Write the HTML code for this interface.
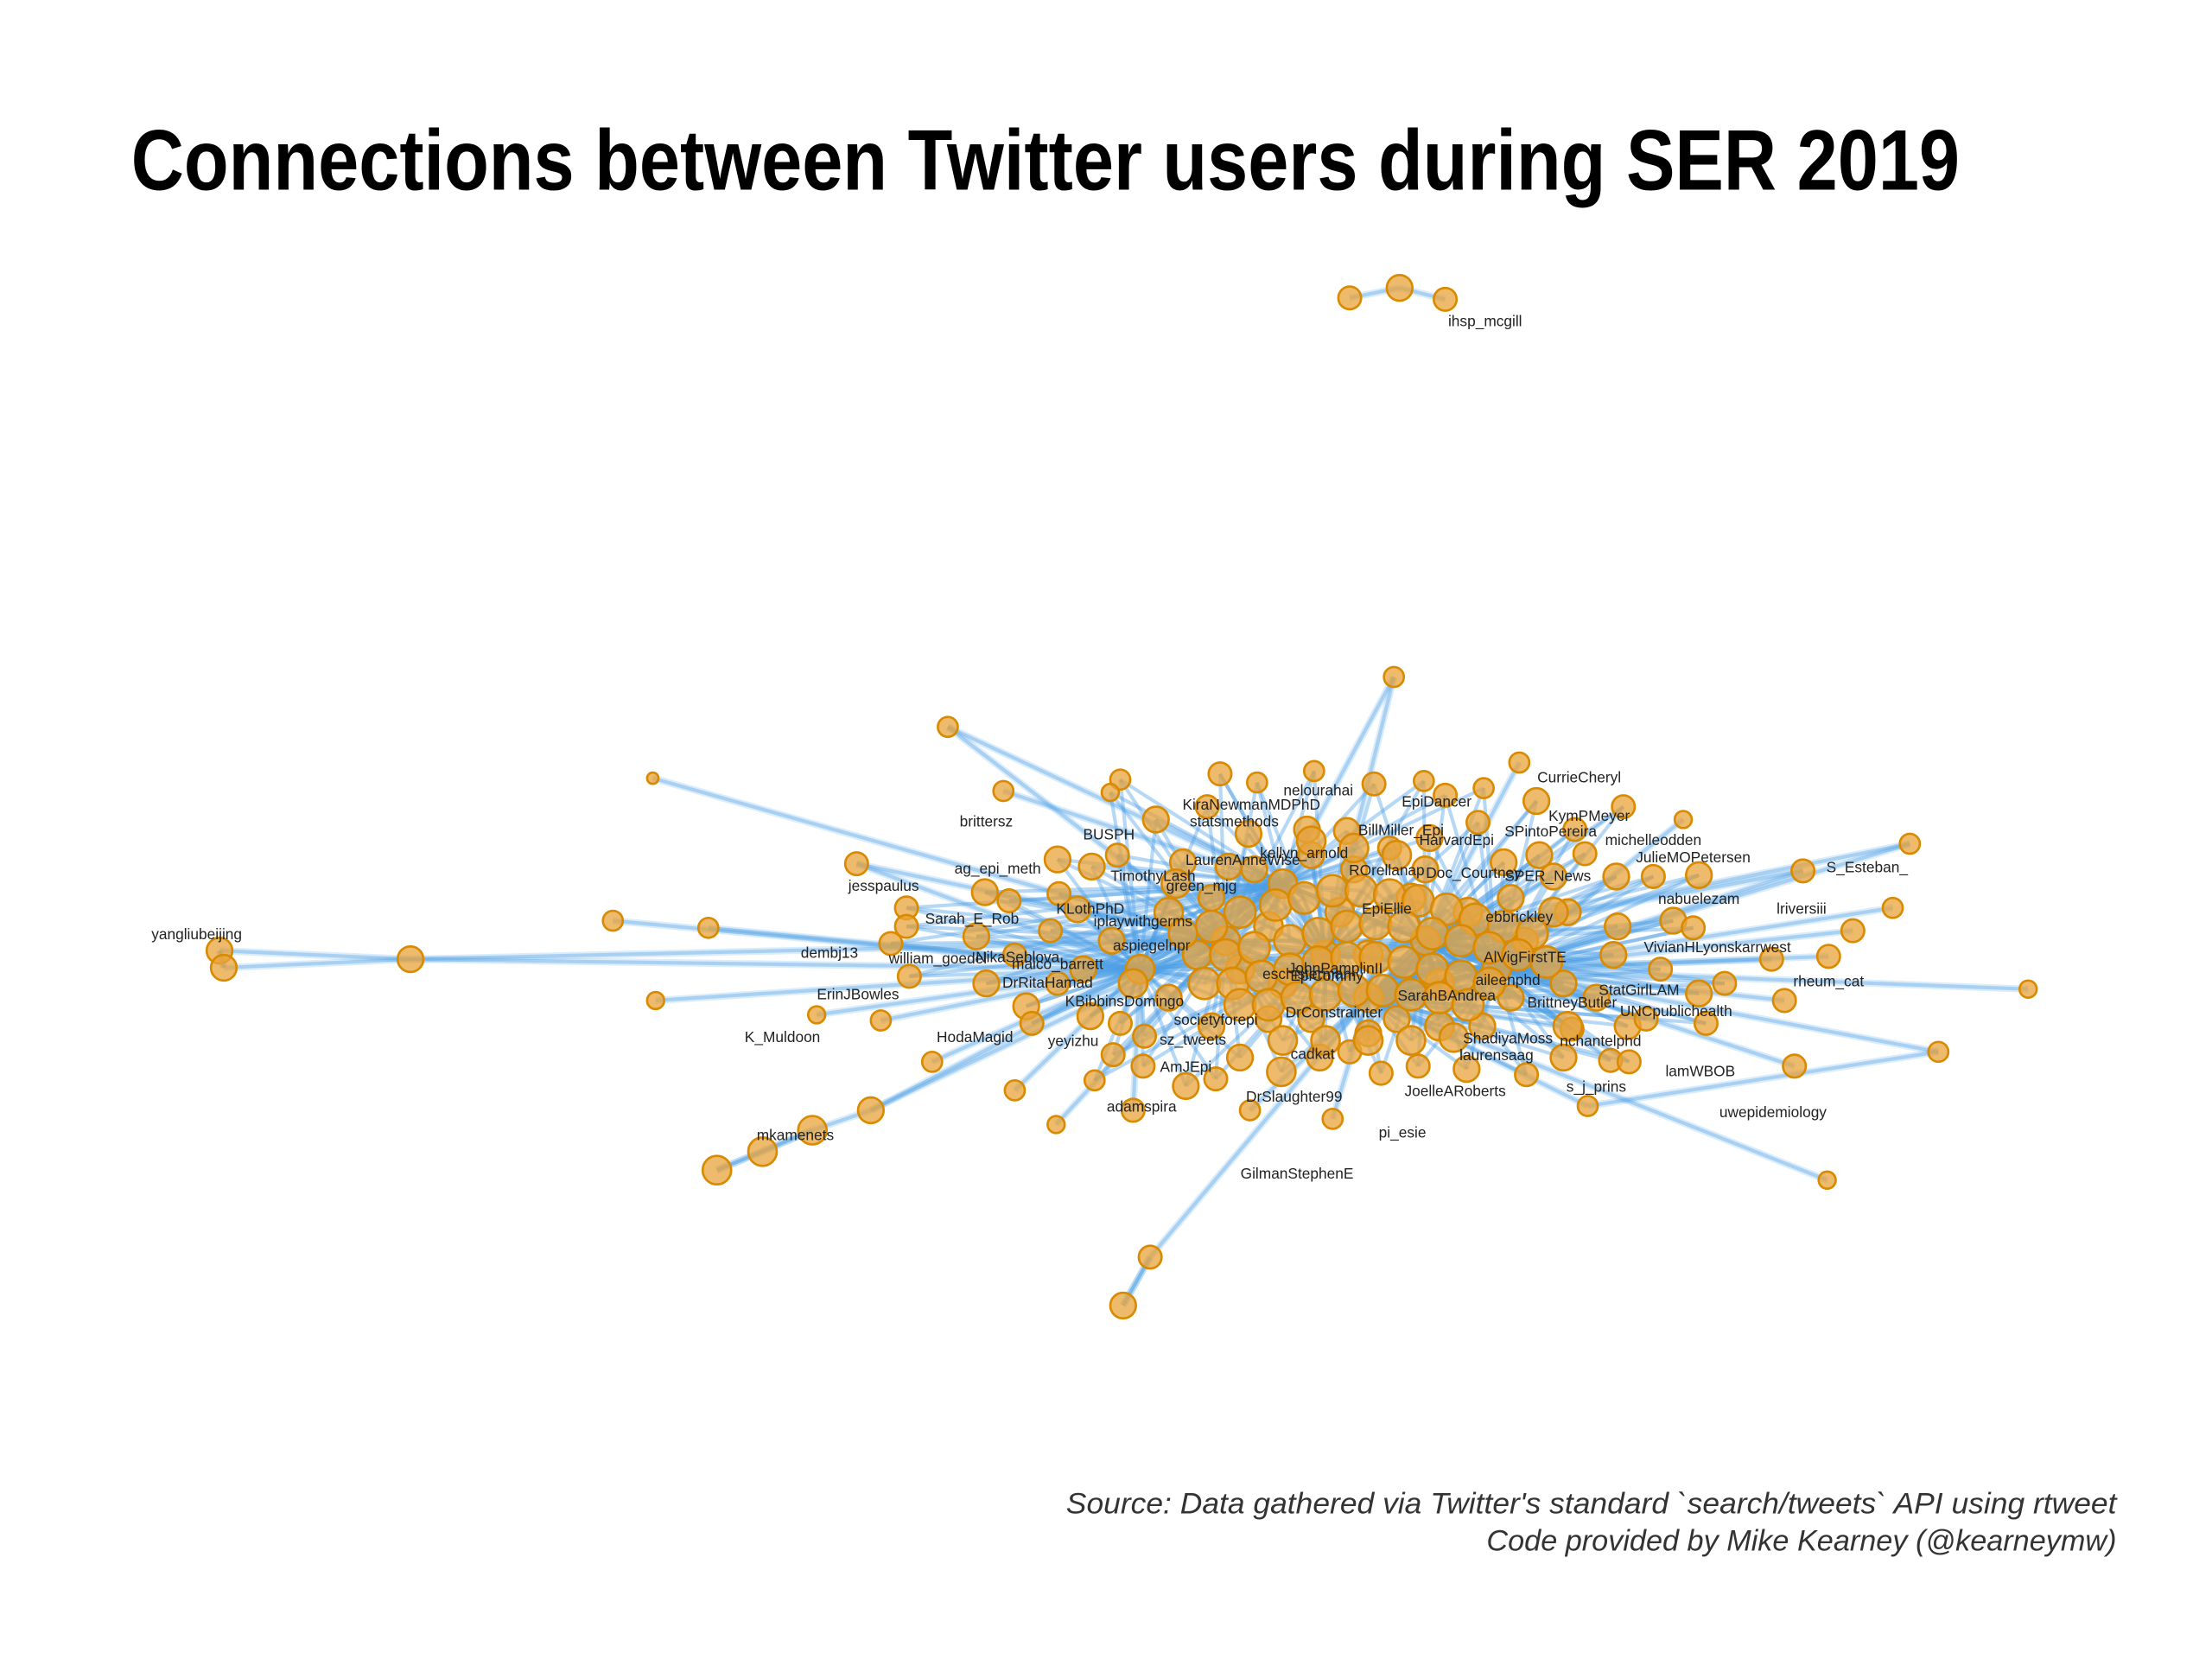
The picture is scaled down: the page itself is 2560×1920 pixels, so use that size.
<!DOCTYPE html>
<html><head><meta charset="utf-8">
<style>
html,body{margin:0;padding:0;background:#fff;}
svg{display:block;}
</style></head>
<body>
<svg id="chart" width="2560" height="1920" viewBox="0 0 1552 1164" xmlns="http://www.w3.org/2000/svg">
<rect width="1552" height="1164" fill="#fff"/>
<text x="92" y="133" font-family="'Liberation Sans Narrow','Liberation Sans',sans-serif" font-weight="bold" font-size="60" textLength="1283" lengthAdjust="spacingAndGlyphs">Connections between Twitter users during SER 2019</text>
<g id="edges"></g>
<g id="nodes"></g>
<g id="labels"></g>
<text x="1485" y="1062" text-anchor="end" font-family="'Liberation Sans Narrow','Liberation Sans',sans-serif" font-style="italic" font-size="21" fill="#333" textLength="737" lengthAdjust="spacingAndGlyphs">Source: Data gathered via Twitter's standard `search/tweets` API using rtweet</text>
<text x="1485" y="1088" text-anchor="end" font-family="'Liberation Sans Narrow','Liberation Sans',sans-serif" font-style="italic" font-size="21" fill="#333" textLength="442" lengthAdjust="spacingAndGlyphs">Code provided by Mike Kearney (@kearneymw)</text>
</svg>
<script>
// hubs (0-6), then peripheral, then central nodes
const nodeX = [930,860,1000,900,960,1050,800,
 947,982,1014,
 154,157,288,430,497,458,460,573,601,665,704,618,654,712,741,503,535,570,611,807,788,978,1066,1181,1340,1328,1300,1423,1360,1282,1259,1252,1114,935,877,795,1265,1243,1283,
 856,882,922,964,999,1014,1041,786,779,811,847,876,917,945,975,1003,1037,1078,1105,1139,1112,1090,1134,1160,1192,742,766,784,830,862,743,756,737,708,691,636,636,685,625,638,692,712,720,724,765,786,803,781,802,768,832,853,870,899,926,947,969,995,1029,1071,1097,1130,1143,1142,1197,1192,1210,1174,1188,1135,1100,1132,1165,1097,1060,1040,1010,980,960,920,890,850,820,795,780,820,850,890,940,990,1030,1060,1070,960,900,1010,870,840,1080,950,1000,920,880,1055,1120,1155,1103,742,760,
 850,870,895,915,935,955,975,995,1015,1035,1055,1075,860,880,905,925,945,965,985,1005,1025,1045,1065,1085,845,865,885,905,925,945,965,985,1005,1025,1045,870,890,910,930,950,970,990,1010,1030,900,930,960,990,1020,830,825,1090,1100,920,950,980];
const nodeY = [670,660,660,620,700,680,680,
 209,202,210,
 667,679,673,646,651,546,702,712,606,510,555,716,745,765,789,821,808,793,779,882,916,475,535,575,592,637,653,694,738,828,748,702,776,785,779,779,611,673,671,
 543,549,541,550,548,558,553,547,556,575,566,585,582,583,595,588,577,562,582,566,599,615,615,615,614,603,608,600,605,608,627,638,653,632,626,637,650,657,662,685,690,670,706,718,713,718,727,740,748,758,762,757,742,752,742,738,753,748,750,754,742,744,745,720,718,697,690,646,651,650,640,670,680,690,700,720,720,715,725,715,715,720,700,690,660,640,630,650,640,630,640,630,660,670,690,690,680,670,600,610,610,600,610,605,700,715,722,690,680,
 650,640,635,630,625,625,628,632,638,645,650,655,670,665,660,655,650,648,650,655,660,665,670,675,690,690,685,680,675,672,672,675,680,685,690,705,705,700,698,695,695,698,700,705,730,730,730,730,728,655,620,640,720,590,595,600];
const nodeR = [10,10,10,10,10,10,10,
 8,9,8,
 9,9,9,7,7,4,6,6,8,7,7,7,7,7,6,10,10,10,9,8,9,7,7,6,7,7,8,6,7,6,8,8,7,7,7,8,8,8,8,
 8,7,7,8,7,8,7,7,6,9,8,9,9,9,8,9,8,9,8,8,8,9,9,8,9,9,9,8,9,9,8,9,8,8,9,8,8,9,8,8,9,8,9,8,9,8,8,8,8,7,9,8,9,10,9,8,8,8,9,8,9,8,8,9,8,9,8,9,8,9,9,9,8,9,9,9,10,9,9,9,9,9,9,10,9,10,9,10,10,10,10,9,9,10,10,10,10,10,9,9,9,9,9,9,9,8,8,8,9,
 11,11,11,11,11,11,11,11,11,11,11,11,11,11,11,11,11,11,11,11,11,11,11,11,11,11,11,11,11,11,11,11,11,11,11,11,11,11,11,11,11,11,11,11,10,10,10,10,10,10,10,10,10,10,10,10];
// explicit edges for peripheral nodes: [from, to]
const edgeFrom = [7,8, 10,11,10,11,12,12,13,14,15,16,17,18,18,19,19,20,21,22,23,24,25,25,26,27,28,28,29,30,29,31,31,32,33,34,34,35,36,37,38,38,39,40,41,42,43,44,45,46,46,47,48];
const edgeTo   = [8,9, 12,12,11,10,1,6,6,6,1,6,6,6,1,3,1,3,6,6,6,1,26,27,27,28,6,1,30,29,4,3,0,2,5,5,2,5,5,5,42,5,4,5,5,4,4,4,6,5,2,5,5];
const labelText = ["ihsp_mcgill","yangliubeijing","brittersz","BUSPH","statsmethods","KiraNewmanMDPhD","nelourahai","EpiDancer","CurrieCheryl","KymPMeyer","BillMiller_Epi","HarvardEpi","SPintoPereira","michelleodden","JulieMOPetersen","S_Esteban_","ag_epi_meth","TimothyLash","LaurenAnneWise","kellyn_arnold","ROrellanap","Doc_Courtney","SPER_News","jesspaulus","green_mjg","KLothPhD","EpiEllie","nabuelezam","lriversiii","Sarah_E_Rob","iplaywithgerms","ebbrickley","dembj13","aspiegelnpr","VivianHLyonskarrwest","NikaSeblova","william_goedel","maico_barrett","JohnPamplinII","AlVigFirstTE","rheum_cat","ErinJBowles","DrRitaHamad","eschisterman","aileenphd","StatGirlLAM","KBibbinsDomingo","SarahBAndrea","BrittneyButler","UNCpublichealth","K_Muldoon","societyforepi","yeyizhu","sz_tweets","HodaMagid","nchantelphd","ShadiyaMoss","cadkat","lamWBOB","laurensaag","AmJEpi","s_j_prins","JoelleARoberts","DrSlaughter99","adamspira","uwepidemiology","mkamenets","pi_esie","GilmanStephenE","EpiCommy","DrConstrainter"];
const labelX = [1042,138,692,778,866,878,925,1008,1108,1115,983,1022,1088,1160,1188,1310,700,809,872,915,973,1034,1086,620,843,765,973,1192,1264,682,802,1066,582,808,1205,714,658,742,937,1070,1283,602,735,917,1058,1150,789,1015,1103,1176,549,853,753,837,684,1123,1058,921,1193,1050,832,1120,1021,908,801,1244,558,984,910,931,936];
const labelY = [229,659,580,589,580,568,558,566,549,576,586,593,587,593,605,612,613,618,607,602,614,616,618,625,625,641,641,634,641,648,650,647,672,667,668,675,676,680,683,675,692,701,693,687,691,698,706,702,707,713,731,719,734,733,731,734,732,743,755,744,752,766,769,773,780,784,800,798,827,688,714];

const NS = "http://www.w3.org/2000/svg";
const gE = document.getElementById('edges'), gN = document.getElementById('nodes'), gL = document.getElementById('labels');
const HUBS = 7, PERIPH_END = 49;
function line(a,b,op,w){
  const l = document.createElementNS(NS,'line');
  l.setAttribute('x1',nodeX[a]); l.setAttribute('y1',nodeY[a]);
  l.setAttribute('x2',nodeX[b]); l.setAttribute('y2',nodeY[b]);
  l.setAttribute('stroke','#4a9ee6'); l.setAttribute('stroke-opacity',op); l.setAttribute('stroke-width',w);
  
  
  gE.appendChild(l);
}
for(let i=0;i<edgeFrom.length;i++){ line(edgeFrom[i],edgeTo[i],0.35,2.5); line(edgeFrom[i],edgeTo[i],0.2,5); }
for(let i=PERIPH_END;i<nodeX.length;i++){
  const d=[];
  for(let h=0;h<HUBS;h++) d.push([Math.hypot(nodeX[i]-nodeX[h],nodeY[i]-nodeY[h]),h]);
  d.sort((a,b)=>a[0]-b[0]);
  for(let k=0;k<3;k++) line(i,d[k][1],0.4,2.5);
}
for(let a=0;a<HUBS;a++) for(let b=a+1;b<HUBS;b++) line(a,b,0.5,3);
for(let i=0;i<nodeX.length;i++){
  const c=document.createElementNS(NS,'circle');
  c.setAttribute('cx',nodeX[i]); c.setAttribute('cy',nodeY[i]); c.setAttribute('r',nodeR[i]);
  c.setAttribute('fill','#e8a33a'); c.setAttribute('fill-opacity','0.75');
  c.setAttribute('stroke','#d98a00'); c.setAttribute('stroke-width','1.6');
  
  
  gN.appendChild(c);
}
for(let i=0;i<labelText.length;i++){
  const t=document.createElementNS(NS,'text');
  t.setAttribute('x',labelX[i]); t.setAttribute('y',labelY[i]);
  t.setAttribute('text-anchor','middle'); t.setAttribute('font-size','10.5');
  t.setAttribute('font-family','Liberation Sans, sans-serif'); t.setAttribute('fill','#222');
  t.textContent=labelText[i];
  
  
  gL.appendChild(t);
}
</script>
</body></html>
